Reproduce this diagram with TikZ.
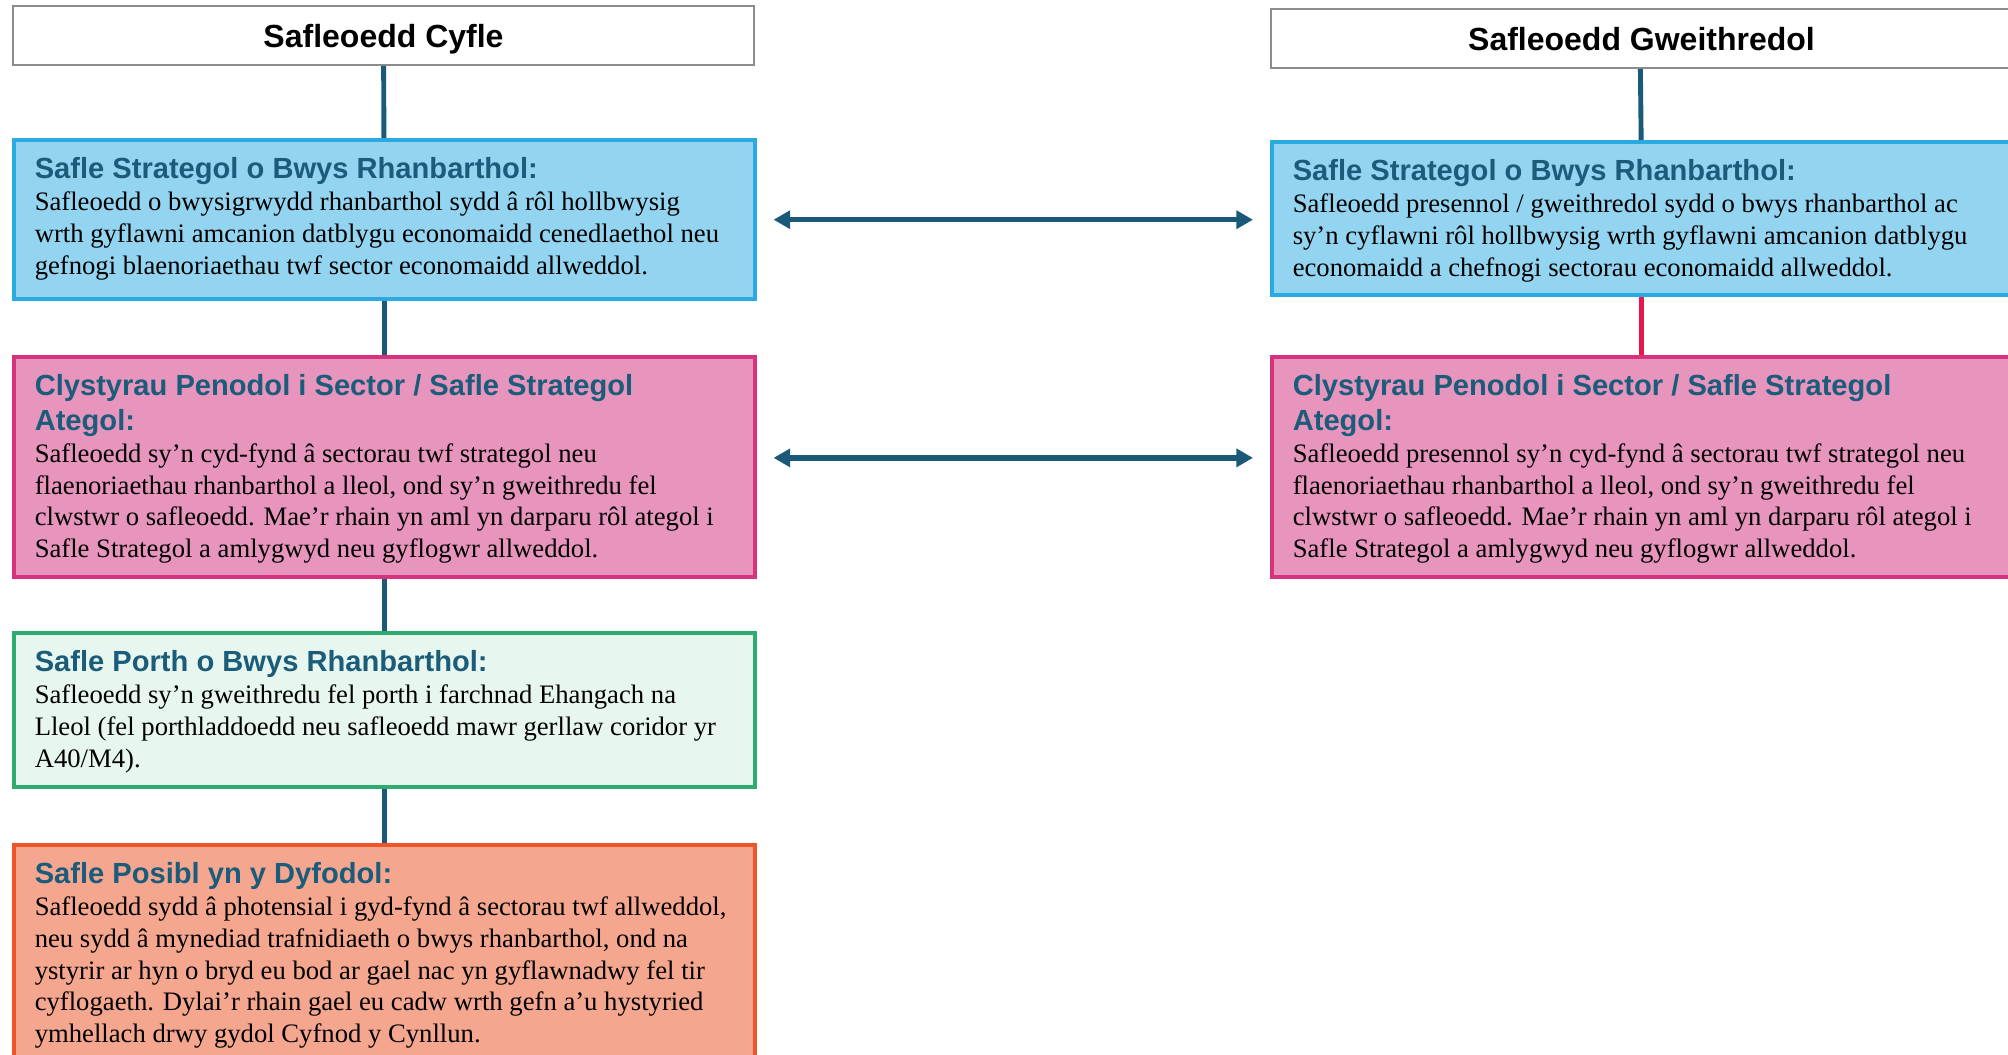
\documentclass[tikz,border=0pt]{standalone}
\usepackage{fontspec}
\setmainfont{Liberation Serif}
\newfontfamily\headfont{Liberation Sans}
\usetikzlibrary{arrows.meta}

\newdimen\px \px=0.45pt
\definecolor{blueFill}{HTML}{93D4F1}
\definecolor{blueLine}{HTML}{29ABE2}
\definecolor{pinkFill}{HTML}{E795BD}
\definecolor{pinkLine}{HTML}{D6327D}
\definecolor{greenFill}{HTML}{E7F7EF}
\definecolor{greenLine}{HTML}{2EAB6F}
\definecolor{orangeFill}{HTML}{F5A68F}
\definecolor{orangeLine}{HTML}{EE552B}
\definecolor{headTeal}{HTML}{1B5C7B}
\definecolor{linkTeal}{HTML}{1A5A78}
\definecolor{linkRed}{HTML}{E5174B}

% heading, then body lines, in a box of fixed size
\newcommand{\boxtext}[3]{\parbox[t][#1][t]{699\px}{%
  {\headfont\bfseries\fontsize{13.1pt}{15.6pt}\selectfont\color{headTeal}#2\par}%
  \fontsize{12pt}{14.3pt}\selectfont #3}}

\begin{document}
\begin{tikzpicture}[x=0.45pt, y=-0.45pt,
    titlebox/.style={draw=black!45, line width=0.9pt, fill=white, anchor=north west,
      minimum width=741\px, minimum height=59\px, inner sep=0pt, text depth=0pt,
      font=\headfont\bfseries\fontsize{14.4pt}{17pt}\selectfont},
    infobox/.style={line width=1.6pt, anchor=north west, inner xsep=21\px, inner ysep=18\px},
    link/.style={line width=2.2pt, linkTeal},
    biarrow/.style={line width=2.4pt, linkTeal, {Triangle[length=7.5pt,width=8pt]}-{Triangle[length=7.5pt,width=8pt]}}]
        \useasboundingbox (0,0) rectangle (2008,1055);
        \clip (0,0) rectangle (2008,1055);

        % left column
        \node[titlebox] (L0) at (12,5) {Safleoedd Cyfle};
        \node[infobox, draw=blueLine, fill=blueFill] (L1) at (12,138) {\boxtext{123\px}{Safle Strategol o Bwys Rhanbarthol:}{%
          Safleoedd o bwysigrwydd rhanbarthol sydd â rôl hollbwysig\\
          wrth gyflawni amcanion datblygu economaidd cenedlaethol neu\\
          gefnogi blaenoriaethau twf sector economaidd allweddol.}};
        \node[infobox, draw=pinkLine, fill=pinkFill] (L2) at (12,355) {\boxtext{184\px}{Clystyrau Penodol i Sector / Safle Strategol\\ Ategol:}{%
          Safleoedd sy’n cyd-fynd â sectorau twf strategol neu\\
          flaenoriaethau rhanbarthol a lleol, ond sy’n gweithredu fel\\
          clwstwr o safleoedd. Mae’r rhain yn aml yn darparu rôl ategol i\\
          Safle Strategol a amlygwyd neu gyflogwr allweddol.}};
        \node[infobox, draw=greenLine, fill=greenFill] (L3) at (12,631) {\boxtext{118\px}{Safle Porth o Bwys Rhanbarthol:}{%
          Safleoedd sy’n gweithredu fel porth i farchnad Ehangach na\\
          Lleol (fel porthladdoedd neu safleoedd mawr gerllaw coridor yr\\
          A40/M4).}};
        \node[infobox, draw=orangeLine, fill=orangeFill] (L4) at (12,843) {\boxtext{200\px}{Safle Posibl yn y Dyfodol:}{%
          Safleoedd sydd â photensial i gyd-fynd â sectorau twf allweddol,\\
          neu sydd â mynediad trafnidiaeth o bwys rhanbarthol, ond na\\
          ystyrir ar hyn o bryd eu bod ar gael nac yn gyflawnadwy fel tir\\
          cyflogaeth. Dylai’r rhain gael eu cadw wrth gefn a’u hystyried\\
          ymhellach drwy gydol Cyfnod y Cynllun.}};

        % right column
        \node[titlebox] (R0) at (1270,8) {Safleoedd Gweithredol};
        \node[infobox, draw=blueLine, fill=blueFill] (R1) at (1270,140) {\boxtext{117\px}{Safle Strategol o Bwys Rhanbarthol:}{%
          Safleoedd presennol / gweithredol sydd o bwys rhanbarthol ac\\
          sy’n cyflawni rôl hollbwysig wrth gyflawni amcanion datblygu\\
          economaidd a chefnogi sectorau economaidd allweddol.}};
        \node[infobox, draw=pinkLine, fill=pinkFill] (R2) at (1270,355) {\boxtext{184\px}{Clystyrau Penodol i Sector / Safle Strategol\\ Ategol:}{%
          Safleoedd presennol sy’n cyd-fynd â sectorau twf strategol neu\\
          flaenoriaethau rhanbarthol a lleol, ond sy’n gweithredu fel\\
          clwstwr o safleoedd. Mae’r rhain yn aml yn darparu rôl ategol i\\
          Safle Strategol a amlygwyd neu gyflogwr allweddol.}};

        \draw[link] (L0) -- (L1);
        \draw[link] (L1) -- (L2);
        \draw[link] (L2) -- (L3);
        \draw[link] (L3) -- (L4);
        \draw[link] ([xshift=-0.5pt]R0.south) -- ([xshift=-0.5pt]R1.north);
        \draw[link, linkRed] ([xshift=-0.5pt]R1.south) -- ([xshift=-0.5pt]R2.north);

        \draw[biarrow, shorten <=17\px, shorten >=17\px] ([yshift=-0.2pt]L1.east) -- ([yshift=-0.2pt]L1.east -| R1.west);
        \draw[biarrow, shorten <=17\px, shorten >=17\px] ([yshift=4pt]L2.east) -- ([yshift=4pt]L2.east -| R2.west);
    \end{tikzpicture}
\end{document}
